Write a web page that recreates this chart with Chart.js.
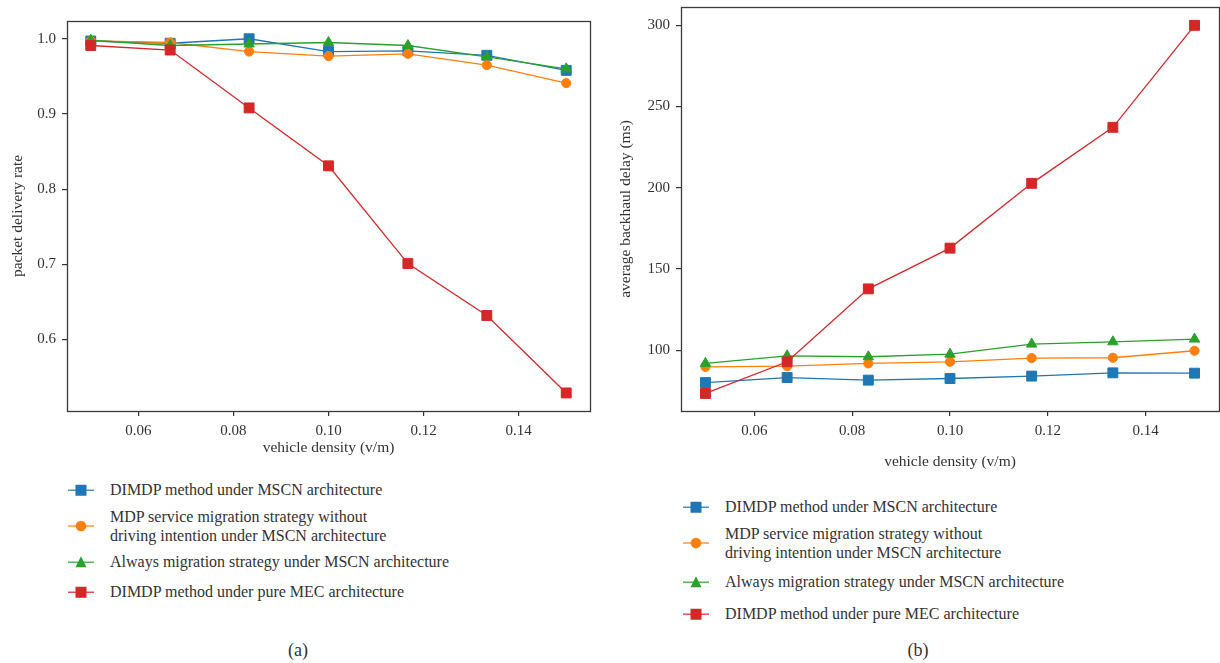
<!DOCTYPE html>
<html>
<head>
<meta charset="utf-8">
<script src="https://cdn.jsdelivr.net/npm/chart.js@4.4.1/dist/chart.umd.min.js"></script>
<style>
  body { margin: 0; width: 1220px; height: 663px; background: #fff; position: relative; overflow: hidden;
         font-family: "Liberation Serif", serif; color: #333; }
  .panel { position: absolute; }
  .legend-item { position: absolute; display: flex; align-items: center; font-size: 16px; line-height: 18.5px;
                 transform: translateY(-50%); white-space: nowrap; }
  .legend-item svg { margin-right: 16px; flex: none; }
  .caption { position: absolute; font-size: 18px; transform: translate(-50%, -50%); }
</style>
</head>
<body>
<canvas id="pdr" class="panel" width="600" height="470" style="left:0; top:0"></canvas>
<canvas id="delay" class="panel" width="640" height="492" style="left:600px; top:-12px"></canvas>
<div id="legendA"></div>
<div id="legendB"></div>
<div class="caption" style="left:298px; top:650px">(a)</div>
<div class="caption" style="left:918px; top:650px">(b)</div>

<script>
// vehicle density (v/m) on x
const density = [0.05, 0.0667, 0.0833, 0.1, 0.1167, 0.1333, 0.15];
const densityTicks = [0.06, 0.08, 0.10, 0.12, 0.14];

const seriesNames = [
  "DIMDP method under MSCN architecture",
  "MDP service migration strategy without<br>driving intention under MSCN architecture",
  "Always migration strategy under MSCN architecture",
  "DIMDP method under pure MEC architecture"
];
const seriesColors = ["#1f77b4", "#ff7f0e", "#2ca02c", "#d62728"];
const seriesMarkers = ["rect", "circle", "triangle", "rect"];

// (a) packet delivery rate
const pdrDimdpMscn = [0.997, 0.994, 1.000, 0.983, 0.984, 0.978, 0.958];
const pdrMdpMscn = [0.997, 0.995, 0.983, 0.977, 0.980, 0.965, 0.941];
const pdrAlwaysMscn = [0.998, 0.991, 0.993, 0.995, 0.991, 0.976, 0.960];
const pdrDimdpMec = [0.991, 0.985, 0.908, 0.831, 0.701, 0.632, 0.529];
const pdrTicks = [0.6, 0.7, 0.8, 0.9, 1.0];

// (b) average backhaul delay (ms)
const delayDimdpMscn = [80.0, 83.1, 81.5, 82.5, 84.0, 86.0, 85.8];
const delayMdpMscn = [89.7, 90.1, 91.8, 92.8, 95.1, 95.3, 99.6];
const delayAlwaysMscn = [91.8, 96.5, 95.9, 97.5, 103.7, 105.1, 106.8];
const delayDimdpMec = [73.3, 92.8, 137.7, 162.8, 202.7, 237.2, 300.0];
const delayTicks = [100, 150, 200, 250, 300];

const FONT = "Liberation Serif";
const INK = "#333";

const markerRadius = { rect: 7, circle: 4.6, triangle: 6 };

const framePlugin = {
  id: "frame",
  afterDraw(chart) {
    const { ctx, chartArea: a } = chart;
    ctx.save();
    ctx.strokeStyle = "#3a3a3a";
    ctx.lineWidth = 1.3;
    ctx.strokeRect(Math.round(a.left) + 0.5, Math.round(a.top) + 0.5,
                   Math.round(a.right - a.left), Math.round(a.bottom - a.top));
    ctx.restore();
  }
};

function buildChart(id, values, yTicks, yDigits, yMin, yMax, yTitle, lay) {
  const datasets = values.map((vals, i) => ({
    label: seriesNames[i].replace("<br>", " "),
    data: vals.map((v, j) => ({ x: density[j], y: v })),
    borderColor: seriesColors[i],
    backgroundColor: seriesColors[i],
    borderWidth: 1.3,
    pointStyle: seriesMarkers[i],
    pointRadius: markerRadius[seriesMarkers[i]],
    pointBorderWidth: 1,
    order: 3 - i,
    clip: false
  }));

  new Chart(document.getElementById(id), {
    type: "line",
    data: { datasets },
    plugins: [framePlugin],
    options: {
      responsive: false,
      animation: false,
      devicePixelRatio: 1,
      layout: { padding: { top: lay.top, right: lay.right, bottom: lay.bottom, left: 0 } },
      plugins: { legend: { display: false }, tooltip: { enabled: false } },
      scales: {
        x: {
          type: "linear",
          min: 0.045,
          max: 0.155,
          afterBuildTicks: s => { s.ticks = densityTicks.map(v => ({ value: v })); },
          afterFit: s => { s.height = lay.xHeight; },
          ticks: { callback: v => v.toFixed(2), font: { family: FONT, size: 15 }, color: INK,
                   padding: 6, maxRotation: 0, autoSkip: false },
          grid: { display: true, drawOnChartArea: false, drawTicks: true, tickLength: 5, color: INK, lineWidth: 1.2 },
          border: { display: false },
          title: { display: true, text: "vehicle density (v/m)", color: INK,
                   font: { family: FONT, size: 15.5 }, padding: { top: 0, bottom: lay.xTitlePad } }
        },
        y: {
          min: yMin,
          max: yMax,
          afterBuildTicks: s => { s.ticks = yTicks.map(v => ({ value: v })); },
          afterFit: s => { s.width = lay.yWidth; },
          ticks: { callback: v => v.toFixed(yDigits), font: { family: FONT, size: 15 }, color: INK, padding: 6 },
          grid: { display: true, drawOnChartArea: false, drawTicks: true, tickLength: 5, color: INK, lineWidth: 1.2 },
          border: { display: false },
          title: { display: true, text: yTitle, color: INK,
                   font: { family: FONT, size: 15.5 }, padding: { top: lay.yTitlePad, bottom: 0 } }
        }
      }
    }
  });
}

buildChart("pdr", [pdrDimdpMscn, pdrMdpMscn, pdrAlwaysMscn, pdrDimdpMec], pdrTicks, 1,
  0.505, 1.0236, "packet delivery rate",
  { top: 21, right: 10, bottom: 9, xHeight: 50, yWidth: 67, xTitlePad: 4, yTitlePad: 9 });

buildChart("delay", [delayDimdpMscn, delayMdpMscn, delayAlwaysMscn, delayDimdpMec], delayTicks, 0,
  62.5, 311.3, "average backhaul delay (ms)",
  { top: 19, right: 21, bottom: 9, xHeight: 60, yWidth: 81, xTitlePad: 0, yTitlePad: 17 });

function markerSvg(i) {
  const c = seriesColors[i];
  let shape;
  if (seriesMarkers[i] === "rect") shape = `<rect x="7.5" y="2" width="11" height="11" fill="${c}"/>`;
  else if (seriesMarkers[i] === "circle") shape = `<circle cx="13" cy="7.5" r="5.3" fill="${c}"/>`;
  else shape = `<polygon points="13,1.5 18.5,12.5 7.5,12.5" fill="${c}"/>`;
  return `<svg width="26" height="15" viewBox="0 0 26 15">
    <line x1="0" y1="7.5" x2="26" y2="7.5" stroke="${c}" stroke-opacity="0.8" stroke-width="1.5"/>${shape}</svg>`;
}

function buildLegend(id, left, rows) {
  const box = document.getElementById(id);
  seriesNames.forEach((name, i) => {
    const item = document.createElement("div");
    item.className = "legend-item";
    item.style.left = left + "px";
    item.style.top = rows[i] + "px";
    item.innerHTML = markerSvg(i) + `<div>${name}</div>`;
    box.appendChild(item);
  });
}

buildLegend("legendA", 68, [490, 526, 562, 592]);
buildLegend("legendB", 683, [507, 543, 582, 614]);
</script>
</body>
</html>
